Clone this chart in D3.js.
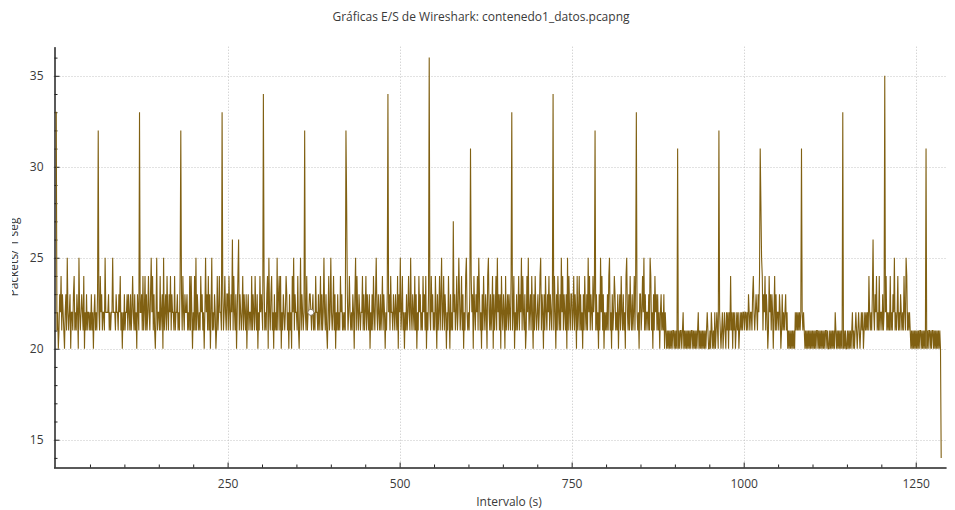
<!DOCTYPE html>
<html><head><meta charset="utf-8">
<script src="https://cdn.jsdelivr.net/npm/d3@7"></script>
<style>
body{margin:0;background:#fff;}
svg{display:block;font-family:"Open Sans","Noto Sans",sans-serif;}
</style>
</head><body>
<svg id="chart" width="955" height="510"></svg>
<script>
const chartTitle = "Gráficas E/S de Wireshark: contenedo1_datos.pcapng";
const xLabel = "Intervalo (s)";
const yLabel = "Packets/ 1 seg";
const xTicks = [250, 500, 750, 1000, 1250];
const yTicks = [15, 20, 25, 30, 35];

// Packets per 1 s interval, written as (value - 20), 50 intervals per row (t = 0 .. 1287)
const packetRows = [
  "2312013241 3210231521 2302213412 1320521232 1402131221",
  "2131202312 1332142312 2152222312 1225222132 2132412021",
  "3122313213 1242131203 2132231412 4131242135 2413102512",
  "2141230512 3142132413 2214122312 1433142132 2312141420",
  "2141513212 1423120252 3141302512 1320141242 2133124213",
  "3142132614 2130246132 1241321302 3122141321 4213021423",
  "2134121340 5213412031 2151341402 1321243120 3120425132",
  "2141025132 1232141223 3212312142 2131241312 5213102412",
  "5212413021 3121423121 2138312421 2132035142 1321224131",
  "2413213021 3142135213 2131241320 2134231422 1321321403",
  "2512412021 3124215213 2141302142 3121423140 2133214231",
  "2142031241 3512413202 1420312172 3124125312 4130214521",
  "2131423042 1324153120 3142132045 2131240312 4152313042",
  "1320412313 2143124021 3124132514 2130142512 3142031421",
  "2312451320 3142132413 2133142031 4213152413 2130514213",
  "3124132041 2413120314 2131524132 1423413120 3152413021",
  "2131451203 1243121302 3142131204 5213142131 2414321203",
  "3124251312 2131541203 1423131202 3121302101 0101010110",
  "1010101011 0120101010 1010110101 0101201010 1010101210",
  "0102101020 1210121012 0121021202 1412021201 2120121212",
  "2122121321 2213421232 1324385413 2413201423 1320241312",
  "2132013121 2312010101 0101021212 1212121210 1010101010",
  "1010101101 0101010101 1010010101 0102101010 1010101010",
  "0101010120 1012101210 1212012121 2142121362 1324121412",
  "2131232412 1214121325 1212412132 1214215412 1210101010",
  "1010101101 0101010101 1010110101 01010100"
];
const packetBase = 20;

// Intervals with the tall peaks (and the final partial interval)
const spikeTimes  = [0, 1, 62, 122, 182, 242, 302, 362, 422, 423, 483, 543, 603, 663, 723, 784, 844, 904, 964, 1024, 1025, 1084, 1144, 1205, 1265, 1287];
const spikeValues = [33, 33, 32, 33, 32, 33, 34, 32, 32, 28, 34, 36, 31, 33, 34, 32, 33, 31, 32, 31, 28, 31, 33, 35, 31, 14];

const markerTime = 371;

// ---- build data ----
const digits = packetRows.join("").replace(/ /g, "").split("");
const data = digits.map((c, i) => ({t: i, v: packetBase + Number(c)}));
spikeTimes.forEach((t, k) => { data[t].v = spikeValues[k]; });

const svg = d3.select("#chart");
const W = 955, H = 510;
const pLeft = 53.5, pRight = 946, pTop = 46.7, pBottom = 467;

const x = d3.scaleLinear().domain([-3, 1294]).range([pLeft, pRight]);
const y = d3.scaleLinear().domain([13.5, 36.6]).range([pBottom, pTop]);

const lineColor = "#806012";
const textColor = "#3a3a3a";

// grid
const grid = svg.append("g").attr("stroke", "#c4c4c4").attr("stroke-width", 1).attr("stroke-dasharray", "1,2");
grid.selectAll("line.gx").data(xTicks).join("line").attr("class", "gx")
  .attr("x1", d => Math.round(x(d)) + 0.5).attr("x2", d => Math.round(x(d)) + 0.5)
  .attr("y1", pTop).attr("y2", pBottom);
grid.selectAll("line.gy").data(yTicks).join("line").attr("class", "gy")
  .attr("y1", d => Math.round(y(d)) + 0.5).attr("y2", d => Math.round(y(d)) + 0.5)
  .attr("x1", pLeft).attr("x2", pRight);

// axes (inward ticks, QCustomPlot style) drawn before the data line
const fmt = d3.format("d");
const xAxis = d3.axisBottom(x).tickValues(xTicks).tickFormat(fmt).tickSizeInner(-5).tickSizeOuter(0).tickPadding(12);
const gx = svg.append("g").attr("transform", `translate(0,${Math.round(pBottom) + 0.5})`).call(xAxis);
const xMinor = d3.range(50, 1295, 50).filter(v => v % 250 !== 0);
svg.append("g").attr("transform", `translate(0,${Math.round(pBottom) + 0.5})`)
  .call(d3.axisBottom(x).tickValues(xMinor).tickSizeInner(-3).tickSizeOuter(0).tickFormat(""));

const yAxis = d3.axisLeft(y).tickValues(yTicks).tickFormat(fmt).tickSizeInner(-5).tickSizeOuter(0).tickPadding(11);
const gy = svg.append("g").attr("transform", `translate(${Math.round(pLeft) + 0.5},0)`).call(yAxis);
const yMinor = d3.range(14, 37, 1).filter(v => v % 5 !== 0);
svg.append("g").attr("transform", `translate(${Math.round(pLeft) + 0.5},0)`)
  .call(d3.axisLeft(y).tickValues(yMinor).tickSizeInner(-3).tickSizeOuter(0).tickFormat(""));

svg.selectAll(".domain").attr("stroke", "#222");
svg.selectAll(".tick line").attr("stroke", "#222");
[gx, gy].forEach(g => g.selectAll("text").attr("fill", textColor).style("font-size", "12px")
  .style("font-family", '"Open Sans","Noto Sans",sans-serif'));

// data line
const line = d3.line().x(d => x(d.t)).y(d => y(d.v)).curve(d3.curveLinear);
svg.append("path").datum(data)
  .attr("fill", "none").attr("stroke", lineColor).attr("stroke-width", 1.1)
  .attr("d", line);

// hover marker
const md = data[markerTime];
svg.append("circle").attr("cx", x(md.t)).attr("cy", y(md.v)).attr("r", 3)
  .attr("fill", "#fff").attr("stroke", "#8a7a60").attr("stroke-width", 1);

// title
svg.append("text").attr("x", 481).attr("y", 21).attr("text-anchor", "middle")
  .attr("fill", textColor).style("font-size", "12px").text(chartTitle);

// x label
svg.append("text").attr("x", 509).attr("y", 506).attr("text-anchor", "middle")
  .attr("fill", textColor).style("font-size", "12px").text(xLabel);

// y label (partly clipped as in the reference)
svg.append("clipPath").attr("id", "ylabClip").append("rect")
  .attr("x", 12).attr("y", 0).attr("width", 40).attr("height", H);
svg.append("g").attr("clip-path", "url(#ylabClip)")
  .append("text")
  .attr("transform", "translate(18,257) rotate(-90)").attr("text-anchor", "middle")
  .attr("fill", textColor).style("font-size", "12px").text(yLabel);
</script>
</body></html>
